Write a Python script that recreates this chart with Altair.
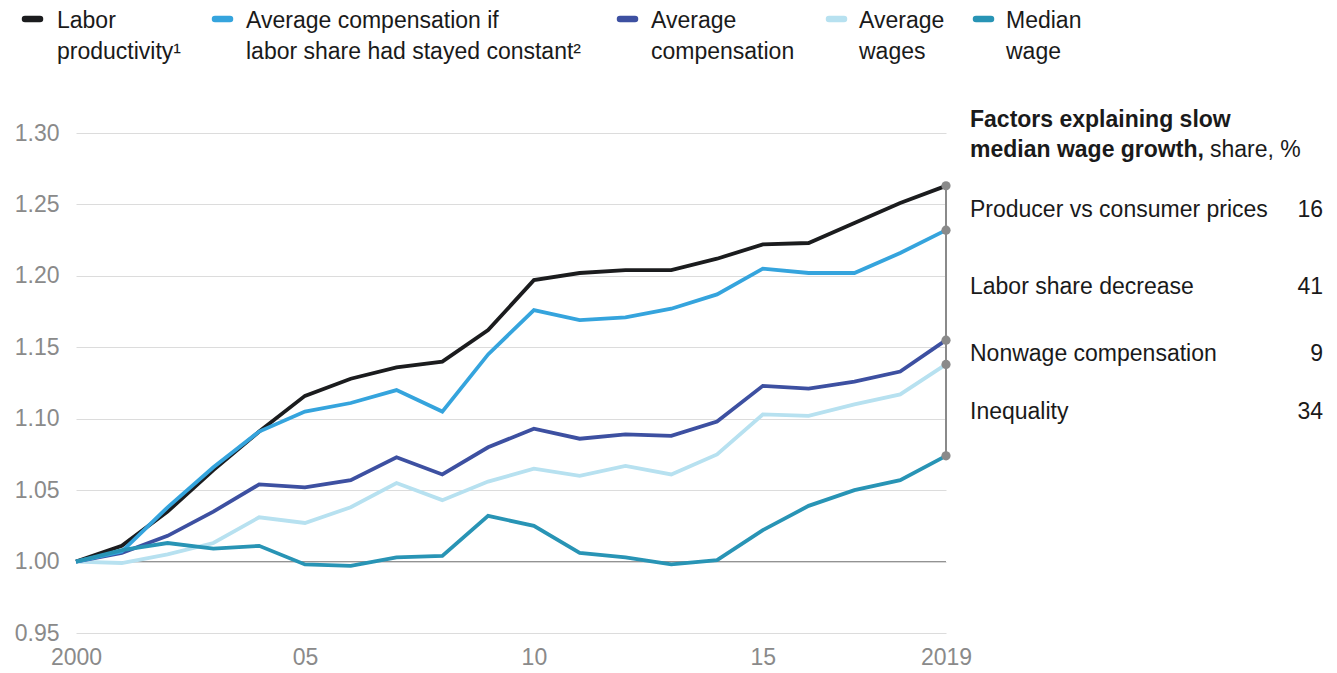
import altair as alt
import pandas as pd

# ---------------- data ----------------
years = list(range(2000, 2020))
labor_productivity = [1.000, 1.011, 1.035, 1.064, 1.091, 1.116, 1.128, 1.136, 1.140, 1.162,
                      1.197, 1.202, 1.204, 1.204, 1.212, 1.222, 1.223, 1.237, 1.251, 1.263]
comp_constant_share = [1.000, 1.007, 1.038, 1.066, 1.091, 1.105, 1.111, 1.120, 1.105, 1.145,
                       1.176, 1.169, 1.171, 1.177, 1.187, 1.205, 1.202, 1.202, 1.216, 1.232]
avg_compensation = [1.000, 1.006, 1.018, 1.035, 1.054, 1.052, 1.057, 1.073, 1.061, 1.080,
                    1.093, 1.086, 1.089, 1.088, 1.098, 1.123, 1.121, 1.126, 1.133, 1.155]
avg_wages = [1.000, 0.999, 1.005, 1.013, 1.031, 1.027, 1.038, 1.055, 1.043, 1.056,
             1.065, 1.060, 1.067, 1.061, 1.075, 1.103, 1.102, 1.110, 1.117, 1.138]
median_wage = [1.000, 1.008, 1.013, 1.009, 1.011, 0.998, 0.997, 1.003, 1.004, 1.032,
               1.025, 1.006, 1.003, 0.998, 1.001, 1.022, 1.039, 1.050, 1.057, 1.074]

series_names = ["Labor productivity",
                "Average compensation if labor share had stayed constant",
                "Average compensation", "Average wages", "Median wage"]
series_values = [labor_productivity, comp_constant_share, avg_compensation, avg_wages, median_wage]
series_colors = ["#1b1c1e", "#35a4dd", "#3d50a1", "#b7e1f0", "#2894b5"]
legend_line1 = ["Labor", "Average compensation if", "Average", "Average", "Median"]
legend_line2 = ["productivity\u00b9", "labor share had stayed constant\u00b2", "compensation", "wages", "wage"]

factor_labels = ["Producer vs consumer prices", "Labor share decrease", "Nonwage compensation", "Inequality"]
factor_shares = [16, 41, 9, 34]
panel_title_bold_1 = "Factors explaining slow"
panel_title_bold_2 = "median wage growth,"
panel_title_regular = "share, %"

y_ticks = [0.95, 1.00, 1.05, 1.10, 1.15, 1.20, 1.25, 1.30]
x_ticks = [2000, 2005, 2010, 2015, 2019]

# ---------------- layout / style ----------------
W, H = 870, 500
FONT = "Liberation Sans"
FS = 23
TEXT_COLOR = "#1a1a1a"
AXIS_COLOR = "#8a8a8a"
draw_order = [3, 2, 0, 1, 4]
legend_swatch_x = [-51, 139, 544, 753, 900]
legend_label_x = [-19, 170, 575, 783, 930]
LEGEND_SWATCH_Y = -114
LEGEND_TEXT_Y = -105
PANEL_X = 894
PANEL_VALUE_X = 1247
PANEL_REGULAR_X = 1134

rows = []
for name, vals in zip(series_names, series_values):
    for yr, v in zip(years, vals):
        rows.append({"series": name, "year": yr, "value": v})
long_df = pd.DataFrame(rows)

x_enc = alt.X("year:Q", scale=alt.Scale(domain=[2000, 2019], nice=False, zero=False),
              axis=alt.Axis(values=x_ticks, title=None, grid=False, domain=False, ticks=False,
                            labelExpr="(datum.value == 2000 || datum.value == 2019) ? '' + datum.value : slice('' + datum.value, 2)",
                            labelPadding=13, labelFlush=False, labelFontSize=FS, labelColor=AXIS_COLOR,
                            labelFont=FONT, labelOverlap=False))
y_enc = alt.Y("value:Q", scale=alt.Scale(domain=[0.95, 1.30], nice=False, zero=False),
              axis=alt.Axis(values=y_ticks, format=".2f", title=None, domain=False, ticks=False,
                            gridColor="#dcdcdc", gridWidth=1, labelPadding=17, labelFontSize=FS,
                            labelColor=AXIS_COLOR, labelFont=FONT, labelOverlap=False, labelFlush=False))

base = alt.Chart(long_df)

baseline = alt.Chart(pd.DataFrame({"value": [1.0]})).mark_rule(color="#8c8c8c", strokeWidth=1).encode(y=y_enc)

line_layers = []
for i in draw_order:
    line_layers.append(
        base.transform_filter(alt.datum.series == series_names[i])
        .mark_line(color=series_colors[i], strokeWidth=3.8)
        .encode(x=x_enc, y=y_enc)
    )

end_df = pd.DataFrame({"series": series_names, "year": [years[-1]] * 5,
                       "value": [v[-1] for v in series_values]})
end_rule = alt.Chart(end_df).transform_aggregate(
    value="min(value)", top="max(value)", groupby=["year"]
).mark_rule(color="#8a8a8a", strokeWidth=2).encode(x=x_enc, y=y_enc, y2="top:Q")
end_dots = alt.Chart(end_df).mark_circle(color="#8a8a8a", size=85, opacity=1).encode(x=x_enc, y=y_enc)

ends = [v[-1] for v in series_values]
factor_df = pd.DataFrame({
    "label": factor_labels,
    "share": [str(s) for s in factor_shares],
    "value": [(ends[k] + ends[k + 1]) / 2 for k in range(4)],
})
factor_text = alt.Chart(factor_df).mark_text(align="left", baseline="middle", dy=2, fontSize=FS,
                                             color=TEXT_COLOR, font=FONT).encode(
    x=alt.value(PANEL_X), y=y_enc, text="label:N")
factor_vals = alt.Chart(factor_df).mark_text(align="right", baseline="middle", dy=2, fontSize=FS,
                                             color=TEXT_COLOR, font=FONT).encode(
    x=alt.value(PANEL_VALUE_X), y=y_enc, text="share:N")

title_df = pd.DataFrame({"t1": [panel_title_bold_1], "t2": [panel_title_bold_2], "t3": [panel_title_regular]})
title1 = alt.Chart(title_df).mark_text(align="left", baseline="alphabetic", fontSize=FS, fontWeight="bold",
                                       color=TEXT_COLOR, font=FONT).encode(
    x=alt.value(PANEL_X), y=alt.value(-6), text="t1:N")
title2 = alt.Chart(title_df).mark_text(align="left", baseline="alphabetic", fontSize=FS, fontWeight="bold",
                                       color=TEXT_COLOR, font=FONT).encode(
    x=alt.value(PANEL_X), y=alt.value(24), text="t2:N")
title3 = alt.Chart(title_df).mark_text(align="left", baseline="alphabetic", fontSize=FS,
                                       color=TEXT_COLOR, font=FONT).encode(
    x=alt.value(PANEL_REGULAR_X), y=alt.value(24), text="t3:N")

legend_layers = []
for i in range(5):
    ldf = pd.DataFrame({"series": [series_names[i]]})
    legend_layers.append(
        alt.Chart(ldf).mark_rule(color=series_colors[i], strokeWidth=6.5, strokeCap="round").encode(
            x=alt.value(legend_swatch_x[i]), x2=alt.value(legend_swatch_x[i] + 15),
            y=alt.value(LEGEND_SWATCH_Y))
    )
    legend_layers.append(
        alt.Chart(ldf).mark_text(align="left", baseline="alphabetic", fontSize=FS, lineHeight=31,
                                 color=TEXT_COLOR, font=FONT,
                                 text=[legend_line1[i], legend_line2[i]]).encode(
            x=alt.value(legend_label_x[i]), y=alt.value(LEGEND_TEXT_Y))
    )

chart = alt.layer(
    baseline, *line_layers, end_rule, end_dots, factor_text, factor_vals,
    title1, title2, title3, *legend_layers
).properties(
    width=W, height=H,
    autosize=alt.AutoSizeParams(type="none"),
    padding={"left": 68, "top": 125, "right": 383, "bottom": 38},
).configure(font=FONT).configure_view(strokeWidth=0, stroke="transparent")

chart.save("out.html", embed_options={"renderer": "svg", "actions": False})
